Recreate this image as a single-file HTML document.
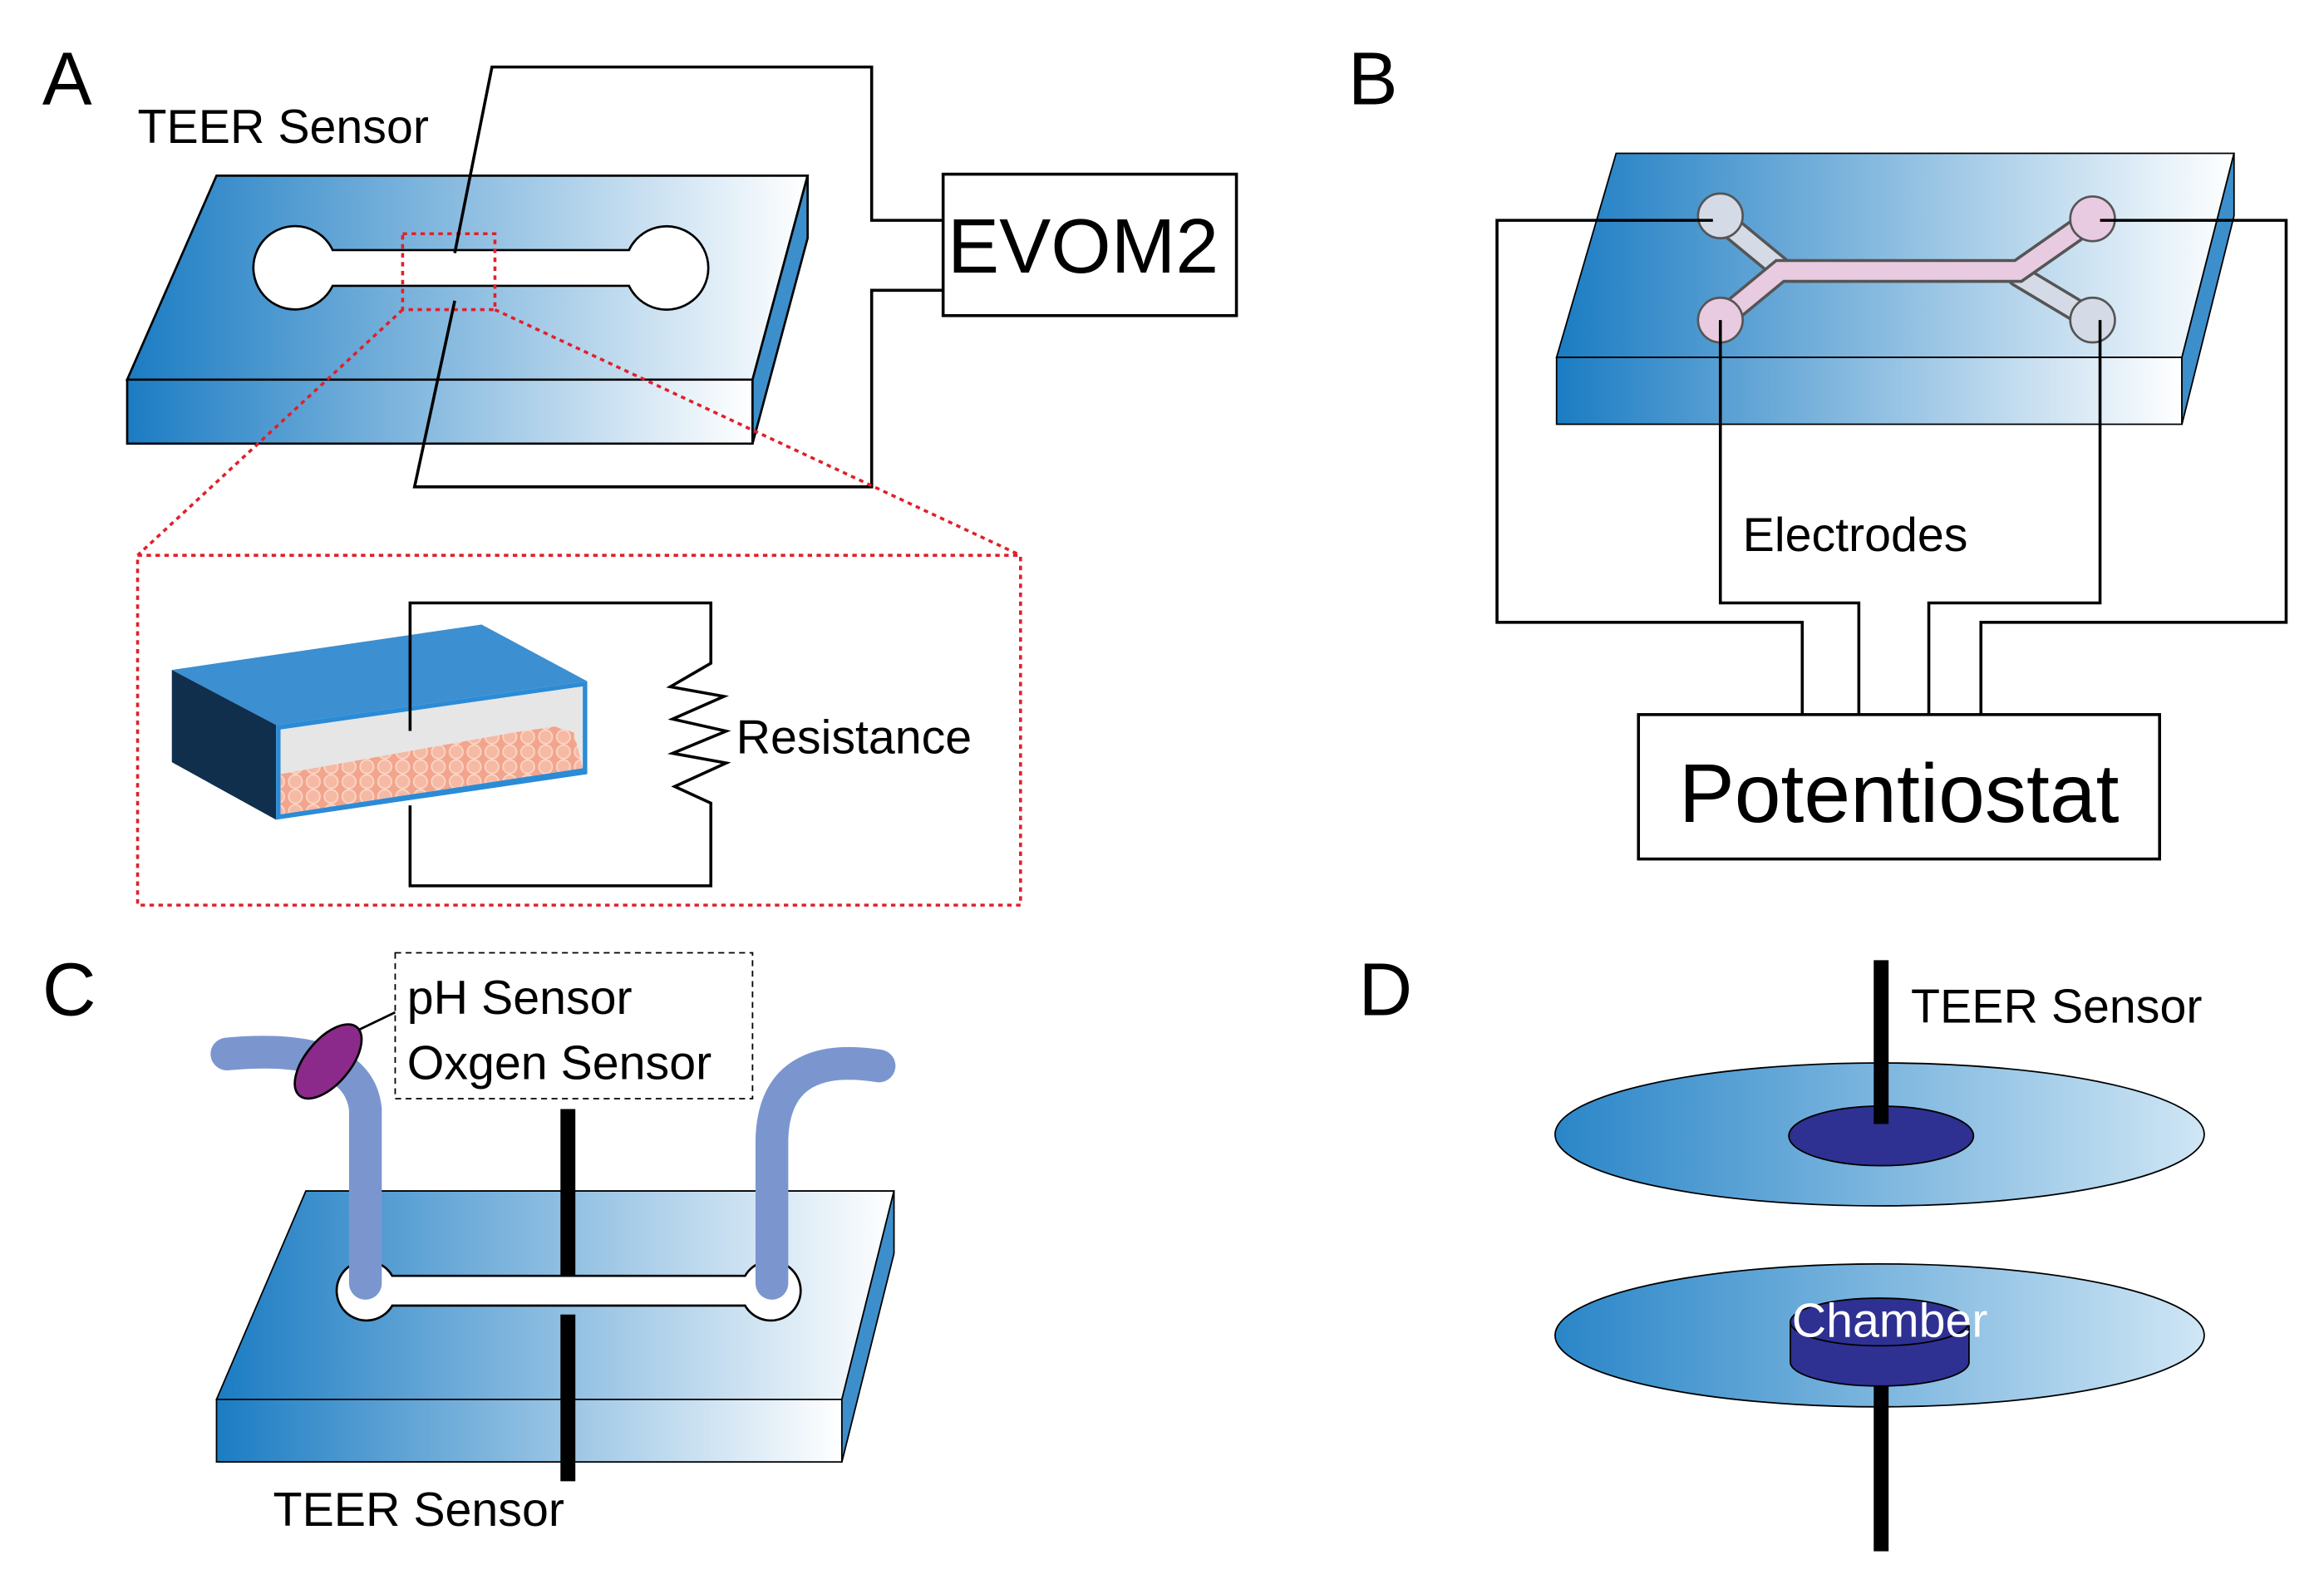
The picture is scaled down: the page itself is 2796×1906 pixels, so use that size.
<!DOCTYPE html>
<html><head><meta charset="utf-8"><style>
html,body{margin:0;padding:0;background:#fff}
svg{display:block}
text{font-family:"Liberation Sans",Arial,sans-serif;fill:#000}
</style></head><body>
<svg width="2796" height="1906" viewBox="0 0 1560 1064" xmlns="http://www.w3.org/2000/svg">
<defs>
<linearGradient id="g" x1="0" x2="1" y1="0" y2="0">
<stop offset="0" stop-color="#1b7cc3"/><stop offset="1" stop-color="#ffffff"/></linearGradient>
<linearGradient id="gs" x1="0" x2="1"><stop offset="0" stop-color="#2a86c8"/><stop offset="1" stop-color="#cfe6f5"/></linearGradient>
<pattern id="cells" width="12" height="10" patternUnits="userSpaceOnUse">
<rect width="12" height="10" fill="#f2a58c"/><circle cx="6" cy="5" r="4.5" fill="#f6b9a3" stroke="#fbd6c8" stroke-width="1"/></pattern>
<clipPath id="fc"><polygon points="188,490 391,461 391,516 188,547"/></clipPath>
</defs>

<!-- Panel A -->
<text x="28" y="70" font-size="50">A</text>
<text x="92" y="96" font-size="32">TEER Sensor</text>
<polygon points="145,118 542,118 505,255 85,255" fill="url(#g)" stroke="#000" stroke-width="1.5"/>
<polygon points="85,255 505,255 505,298 85,298" fill="url(#g)" stroke="#000" stroke-width="1.5"/>
<polygon points="505,255 542,118 542,160 505,298" fill="#3d8fcc" stroke="#000" stroke-width="1.5"/>
<path d="M195,152 a28,28 0 1,0 28,40 h199 a28,28 0 1,0 0,-24 h-199 a28,28 0 0,0 -28,-16z" fill="#fff" stroke="#000" stroke-width="1.5"/>
<rect x="270" y="157" width="62" height="51" fill="none" stroke="#e0202a" stroke-width="2" stroke-dasharray="3,3"/>
<polyline points="305,170 330,45 585,45 585,148 635,148" fill="none" stroke="#000" stroke-width="2"/>
<polyline points="305,202 278,327 585,327 585,195 635,195" fill="none" stroke="#000" stroke-width="2"/>
<rect x="633" y="117" width="197" height="95" fill="#fff" stroke="#000" stroke-width="2"/>
<text x="636" y="183" font-size="52">EVOM2</text>
<line x1="270" y1="208" x2="92" y2="373" stroke="#e0202a" stroke-width="2" stroke-dasharray="3,3"/>
<line x1="332" y1="208" x2="685" y2="373" stroke="#e0202a" stroke-width="2" stroke-dasharray="3,3"/>
<rect x="92" y="373" width="593" height="235" fill="none" stroke="#e0202a" stroke-width="2" stroke-dasharray="3,3"/>
<polygon points="115,450 323,419.5 394,457.6 185,487" fill="#3c8fd0"/>
<polygon points="115,450 185,487 185,550.6 115,512" fill="#0f2f4d"/>
<polygon points="185,487 394,457.6 394,520 185,550.6" fill="#2b8bd6"/>
<polygon points="188,490 391,461 391,516 188,547" fill="#e6e6e6"/>
<polygon points="188,520 300,500 345,492 372,488 385,492 391,516 188,547" fill="url(#cells)" clip-path="url(#fc)"/>
<polyline points="275,491 275,405 477,405 477,445.5 449.8,461.3 485.8,467.8 451.3,483 487.3,491.1 451.3,506 487.3,512.5 452.7,528.3 477,539.5 477,595 275,595 275,541" fill="none" stroke="#000" stroke-width="2"/>
<text x="494" y="506" font-size="32">Resistance</text>

<!-- Panel B -->
<text x="905" y="70" font-size="50">B</text>
<polygon points="1085,103 1500,103 1465,240 1045,240" fill="url(#g)" stroke="#000" stroke-width="1"/>
<polygon points="1045,240 1465,240 1465,285 1045,285" fill="url(#g)" stroke="#000" stroke-width="1"/>
<polygon points="1465,240 1500,103 1500,145 1465,285" fill="#3d8fcc" stroke="#000" stroke-width="1"/>
<g stroke-linecap="round" fill="none">
<path d="M1155,147 L1195,180 M1355,185 L1405,215" stroke="#555" stroke-width="16"/>
<path d="M1155,147 L1195,180 M1355,185 L1405,215" stroke="#d5dbe6" stroke-width="12"/>
<path d="M1155,215 L1195,182 L1355,182 L1405,147" stroke="#555" stroke-width="16"/>
<path d="M1155,215 L1195,182 L1355,182 L1405,147" stroke="#e8cbe0" stroke-width="12"/>
</g>
<circle cx="1155" cy="145" r="15" fill="#d5dbe6" stroke="#555" stroke-width="1.5"/>
<circle cx="1405" cy="215" r="15" fill="#d5dbe6" stroke="#555" stroke-width="1.5"/>
<circle cx="1405" cy="147" r="15" fill="#e8cbe0" stroke="#555" stroke-width="1.5"/>
<circle cx="1155" cy="215" r="15" fill="#e8cbe0" stroke="#555" stroke-width="1.5"/>
<g fill="none" stroke="#000" stroke-width="2">
<polyline points="1150,148 1005,148 1005,418 1210,418 1210,480"/>
<polyline points="1155,215 1155,405 1248,405 1248,480"/>
<polyline points="1410,215 1410,405 1295,405 1295,480"/>
<polyline points="1410,148 1535,148 1535,418 1330,418 1330,480"/>
</g>
<text x="1170" y="370" font-size="32">Electrodes</text>
<rect x="1100" y="480" width="350" height="97" fill="#fff" stroke="#000" stroke-width="2"/>
<text x="1275" y="552" font-size="56" text-anchor="middle">Potentiostat</text>

<!-- Panel C -->
<text x="28" y="682" font-size="50">C</text>
<polygon points="205,800 600,800 565,940 145,940" fill="url(#g)" stroke="#000" stroke-width="1"/>
<polygon points="145,940 565,940 565,982 145,982" fill="url(#g)" stroke="#000" stroke-width="1"/>
<polygon points="565,940 600,800 600,842 565,982" fill="#3d8fcc" stroke="#000" stroke-width="1"/>
<path d="M245,847 a20,20 0 1,0 18,30 h237 a20,20 0 1,0 0,-20 h-237 a20,20 0 0,0 -18,-10z" fill="#fff" stroke="#000" stroke-width="1.5"/>
<g fill="none" stroke="#7b96cf" stroke-width="22" stroke-linecap="round">
<path d="M152,708 Q240,700 245,745 L245,862"/>
<path d="M590,716 Q520,705 518,765 L518,862"/>
</g>
<line x1="240" y1="692" x2="265" y2="680" stroke="#000" stroke-width="1.5"/>
<ellipse cx="220" cy="713" rx="15" ry="30" transform="rotate(40 220 713)" fill="#8b2a8a" stroke="#000" stroke-width="1.5"/>
<rect x="265" y="640" width="240" height="98" fill="none" stroke="#000" stroke-width="1" stroke-dasharray="4,3"/>
<text x="273" y="681" font-size="32">pH Sensor</text>
<text x="273" y="725" font-size="32">Oxgen Sensor</text>
<line x1="381" y1="745" x2="381" y2="857" stroke="#000" stroke-width="10"/>
<line x1="381" y1="883" x2="381" y2="995" stroke="#000" stroke-width="10"/>
<text x="183" y="1025" font-size="32">TEER Sensor</text>

<!-- Panel D -->
<text x="912" y="682" font-size="50">D</text>
<ellipse cx="1262" cy="762" rx="218" ry="48" fill="url(#gs)" stroke="#000" stroke-width="1"/>
<ellipse cx="1263" cy="763" rx="62" ry="20" fill="#2e3192" stroke="#000" stroke-width="1"/>
<line x1="1263" y1="645" x2="1263" y2="755" stroke="#000" stroke-width="10"/>
<text x="1283" y="687" font-size="32">TEER Sensor</text>
<ellipse cx="1262" cy="897" rx="218" ry="48" fill="url(#gs)" stroke="#000" stroke-width="1"/>
<line x1="1263" y1="925" x2="1263" y2="1042" stroke="#000" stroke-width="10"/>
<path d="M1202,888 L1202,915 A60,16 0 0,0 1322,915 L1322,888 Z" fill="#2e3192" stroke="#000" stroke-width="1"/>
<ellipse cx="1262" cy="888" rx="60" ry="16" fill="#2e3192" stroke="#000" stroke-width="1"/>
<text x="1203" y="898" font-size="32" style="fill:#fff">Chamber</text>
</svg>
</body></html>
